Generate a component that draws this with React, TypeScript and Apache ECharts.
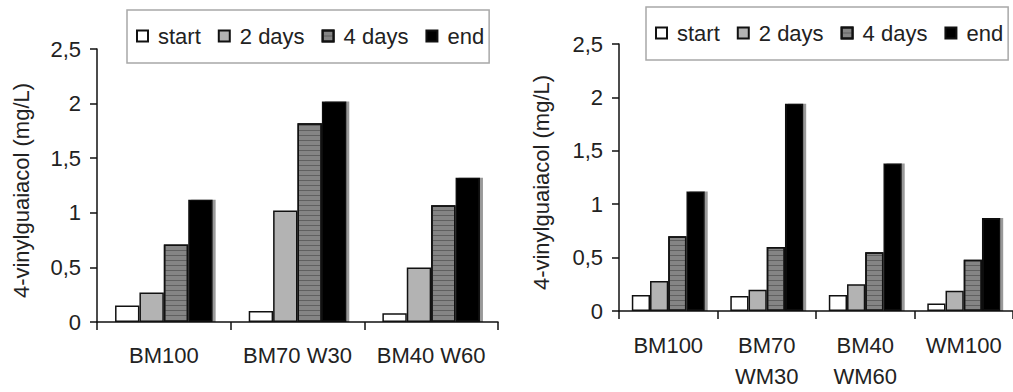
import React, { useEffect, useRef } from "react";
import * as echarts from "echarts";

const seriesNames = ["start", "2 days", "4 days", "end"];
const categoriesLeft = ["BM100", "BM70 W30", "BM40 W60"];
const categoriesRight = ["BM100", "BM70\nWM30", "BM40\nWM60", "WM100"];

const leftStart = [0.15, 0.1, 0.08];
const left2d = [0.27, 1.02, 0.5];
const left4d = [0.71, 1.82, 1.07];
const leftEnd = [1.12, 2.02, 1.32];

const rightStart = [0.15, 0.14, 0.15, 0.07];
const right2d = [0.28, 0.2, 0.25, 0.19];
const right4d = [0.7, 0.6, 0.55, 0.48];
const rightEnd = [1.12, 1.94, 1.38, 0.87];

const yMin = 0;
const yMax = 2.5;
const yStep = 0.5;
const yTitle = "4-vinylguaiacol (mg/L)";

const FONT = "'Liberation Sans', Arial, sans-serif";

export default function App() {
  const ref = useRef<HTMLDivElement>(null);
  useEffect(() => {
    if (!ref.current) return;
    const chart = echarts.init(ref.current, undefined, { renderer: "svg" });

    const styles = [
      { color: "#ffffff", borderColor: "#111", borderWidth: 1.5 },
      { color: "#b3b3b3", borderColor: "#111", borderWidth: 1.5 },
      {
        color: "#858585",
        borderColor: "#111",
        borderWidth: 1.5,
        decal: {
          symbol: "rect",
          symbolSize: 1,
          dashArrayX: [1, 0],
          dashArrayY: [1, 4],
          rotation: 0,
          color: "rgba(60,60,60,0.5)",
        },
      },
      {
        color: "#000000",
        borderColor: "#111",
        borderWidth: 1.5,
        shadowColor: "rgba(0,0,0,0.4)",
        shadowOffsetX: 3,
        shadowOffsetY: 0,
        shadowBlur: 0,
      },
    ];

    const leftData = [leftStart, left2d, left4d, leftEnd];
    const rightData = [rightStart, right2d, right4d, rightEnd];

    const yAxisBase = (nameGap: number) => ({
      type: "value",
      min: yMin,
      max: yMax,
      interval: yStep,
      name: yTitle,
      nameLocation: "middle",
      nameGap,
      nameTextStyle: { fontSize: 22, color: "#222", fontFamily: FONT, padding: [0, 10, 0, 0] },
      axisLine: { show: true, lineStyle: { color: "#111", width: 1.5 } },
      axisTick: { show: true, length: 7, lineStyle: { color: "#111", width: 1.5 } },
      splitLine: { show: false },
      axisLabel: {
        fontSize: 22,
        color: "#222",
        fontFamily: FONT,
        margin: 16,
        formatter: (v: number) => String(v).replace(".", ","),
      },
    });

    const xAxisBase = (data: string[], margin: number, lineHeight: number) => ({
      type: "category",
      data,
      axisLine: { show: true, lineStyle: { color: "#111", width: 1.5 } },
      axisTick: { show: true, length: 8, interval: 0, lineStyle: { color: "#111", width: 1.5 } },
      axisLabel: {
        interval: 0,
        fontSize: 22,
        color: "#222",
        fontFamily: FONT,
        margin,
        lineHeight,
      },
    });

    const legendBase = (left: number, top: number, index: number) => ({
      left,
      top,
      orient: "horizontal",
      data: seriesNames,
      icon: "rect",
      itemWidth: 11,
      itemHeight: 11,
      itemGap: 17,
      padding: [15, 5, 16, 9],
      borderColor: "#a8a8a8",
      borderWidth: 1.5,
      selectedMode: false,
      textStyle: { fontSize: 22, color: "#222", fontFamily: FONT, padding: [0, 0, 0, 5] },
    });

    const series: any[] = [];
    seriesNames.forEach((name, i) => {
      series.push({
        name,
        type: "bar",
        xAxisIndex: 0,
        yAxisIndex: 0,
        data: leftData[i],
        barGap: "0%",
        barCategoryGap: "27%",
        itemStyle: styles[i],
      });
    });
    seriesNames.forEach((name, i) => {
      series.push({
        name,
        type: "bar",
        xAxisIndex: 1,
        yAxisIndex: 1,
        data: rightData[i],
        barGap: "0%",
        barCategoryGap: "26%",
        itemStyle: styles[i],
      });
    });

    chart.setOption({
      animation: false,
      backgroundColor: "#ffffff",
      textStyle: { fontFamily: FONT },
      legend: [legendBase(127, 10, 0), legendBase(646, 7, 1)],
      grid: [
        { left: 97, right: 515, top: 49, bottom: 70, containLabel: false },
        { left: 619, right: -7, top: 44, bottom: 78, containLabel: false },
      ],
      xAxis: [
        { ...xAxisBase(categoriesLeft, 22, 22), gridIndex: 0 },
        { ...xAxisBase(categoriesRight, 19, 31), gridIndex: 1 },
      ],
      yAxis: [
        { ...yAxisBase(65), gridIndex: 0 },
        { ...yAxisBase(67), gridIndex: 1 },
      ],
      series,
    } as any);

    return () => chart.dispose();
  }, []);

  return (
    <div
      ref={ref}
      style={{ position: "absolute", left: 0, top: 0, width: 1013, height: 392, background: "#fff" }}
    />
  );
}
